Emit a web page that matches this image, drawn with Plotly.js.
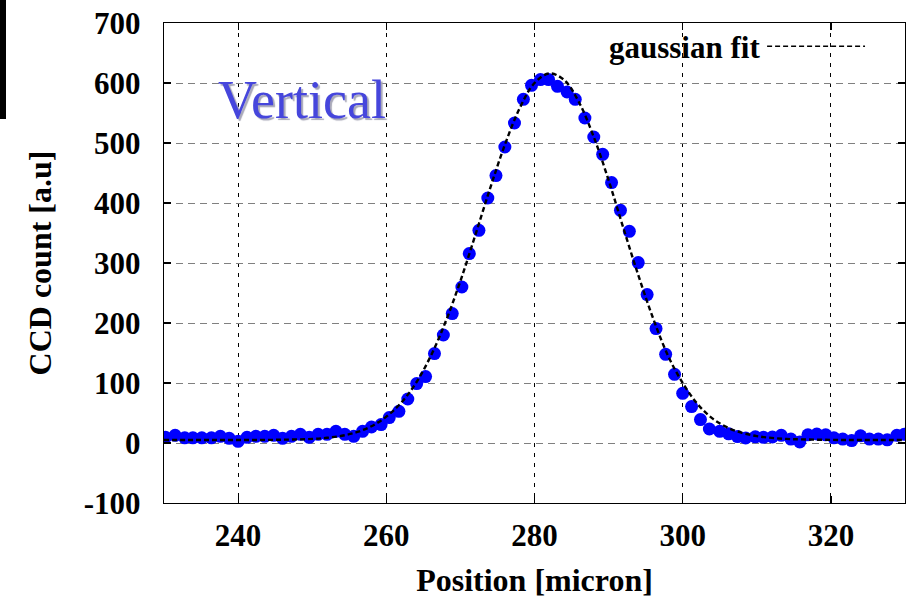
<!DOCTYPE html>
<html>
<head>
<meta charset="utf-8">
<script src="https://cdn.plot.ly/plotly-3.0.1.min.js"></script>
<style>
html,body{margin:0;padding:0;background:#fff;}
#chart{width:906px;height:600px;position:relative;}
#bar{position:absolute;left:0;top:0;width:6px;height:119px;background:#000;z-index:10;}
</style>
</head>
<body>
<div id="chart"></div>
<div id="bar"></div>
<script>
// measured profile (Position [micron], CCD count)
const posX = [230.2,231.5,232.8,233.9,235.1,236.4,237.6,238.8,240.0,241.2,242.4,243.6,244.8,246.0,247.2,248.4,249.6,250.8,252.0,253.2,254.4,255.6,256.8,258.0,259.3,260.4,261.7,262.9,264.1,265.3,266.5,267.7,268.9,270.2,271.2,272.5,273.7,274.8,276.0,277.3,278.5,279.6,280.8,281.9,283.1,284.4,285.5,286.8,288.0,289.2,290.4,291.6,292.8,294.0,295.2,296.4,297.7,298.9,300.0,301.2,302.4,303.6,305.0,306.2,307.4,308.5,309.8,310.9,312.1,313.3,314.6,315.8,316.9,318.1,319.3,320.4,321.6,322.8,324.0,325.2,326.4,327.6,328.9,329.9];
const countY = [9.5,12.8,8.7,8.7,8.7,8.7,11.2,7.8,2.8,9.5,11.2,11.2,12.8,7.8,11.2,14.5,9.5,14.5,14.5,19.5,14.5,11.2,19.5,26.7,30.7,42.3,52.8,73.3,99,110.7,149,180,215.7,260,315.7,354.5,408.3,445.7,493.3,533.3,572.8,596.2,605.7,605.7,594.5,585,572.8,541.7,510,481.2,434,387.8,352.8,300.7,247.3,190.7,147.8,114.5,82.8,60.7,39,23.3,19.5,15.3,10.7,8.3,10.3,9.5,10,12.8,6.5,1.7,13.7,15,13.7,8.7,6.5,4,12,6.5,6.5,5.3,12.8,14.5];
// gaussian fit curve
const fitX = [230,234,238,242,246,250,252,254,256,258,260,262,264,266,268,270,272,274,276,278,280,282,284,286,288,290,292,294,296,298,300,302,304,306,308,310,312,314,316,320,324,330];
const fitY = [5,5,5,5,5.5,6.8,8.7,12,18,28,44,67,100,145,202,270,346,424,497,558,600,616,605,568,510,438,358,280,208,146,100,65,41,26,17,11.5,8.5,6.8,6,5.2,5,5];
const xTicks = [240,260,280,300,320];
const yTicks = [-100,0,100,200,300,400,500,600,700];
const seriesLabel = "gaussian fit";
const panelLabel = "Vertical";

const serif = "'Liberation Serif','Times New Roman',serif";
const data = [
  {x: posX, y: countY, type: 'scatter', mode: 'markers',
   marker: {color: '#0000ff', size: 13, line: {width: 0}}, showlegend: false, cliponaxis: true},
  {x: fitX, y: fitY, type: 'scatter', mode: 'lines', name: seriesLabel,
   line: {color: '#000', width: 2.4, dash: '5px,3px', shape: 'spline', smoothing: 1}, showlegend: false}
];
const layout = {
  width: 906, height: 600,
  margin: {l: 163.5, r: 1, t: 22.7, b: 97.3},
  paper_bgcolor: '#fff', plot_bgcolor: '#fff',
  font: {family: serif, color: '#000'},
  xaxis: {range: [230, 330], tickvals: xTicks, ticktext: xTicks.map(String),
    ticks: 'inside', ticklen: 7, tickwidth: 1.2, tickcolor: '#000',
    showline: true, linecolor: '#000', linewidth: 1.3, mirror: 'ticks',
    showgrid: true, gridcolor: '#000', gridwidth: 1, griddash: '4px,6px',
    zeroline: false, ticklabelstandoff: 4,
    tickfont: {family: serif, size: 31, color: '#000', weight: 'bold'},
    title: {text: '<b>Position [micron]</b>', font: {family: serif, size: 32, color: '#000'}, standoff: 17}},
  yaxis: {range: [-100, 700], tickvals: yTicks, ticktext: yTicks.map(String),
    ticks: 'inside', ticklen: 7, tickwidth: 1.2, tickcolor: '#000',
    showline: true, linecolor: '#000', linewidth: 1.3, mirror: 'ticks',
    showgrid: true, gridcolor: '#808080', gridwidth: 1, griddash: '7px,5px',
    zeroline: false, ticklabelstandoff: 16,
    tickfont: {family: serif, size: 31, color: '#000', weight: 'bold'},
    title: {text: '<b>CCD count [a.u]</b>', font: {family: serif, size: 32, color: '#000'}, standoff: 22}},
  shapes: [
    {type: 'line', xref: 'paper', yref: 'paper', x0: (767-163.5)/741.5, x1: (865-163.5)/741.5,
     y0: (502.7-46)/480, y1: (502.7-46)/480, line: {color: '#000', width: 1.6, dash: '5px,3px'}}
  ],
  annotations: [
    {xref: 'paper', yref: 'paper', x: (762-163.5)/741.5, y: (502.7-47)/480, xanchor: 'right', yanchor: 'middle',
     text: '<b>' + seriesLabel + '</b>', showarrow: false, font: {family: serif, size: 31, color: '#000'}},
    {xref: 'paper', yref: 'paper', x: (301.5-163.5)/741.5, y: (502.7-100)/480, xanchor: 'center', yanchor: 'middle',
     text: panelLabel, showarrow: false,
     font: {family: serif, size: 54, color: '#4646dc', shadow: '2px 2px 1px #a8a8b8'}}
  ]
};
Plotly.newPlot('chart', data, layout, {displayModeBar: false, staticPlot: true});
</script>
</body>
</html>
